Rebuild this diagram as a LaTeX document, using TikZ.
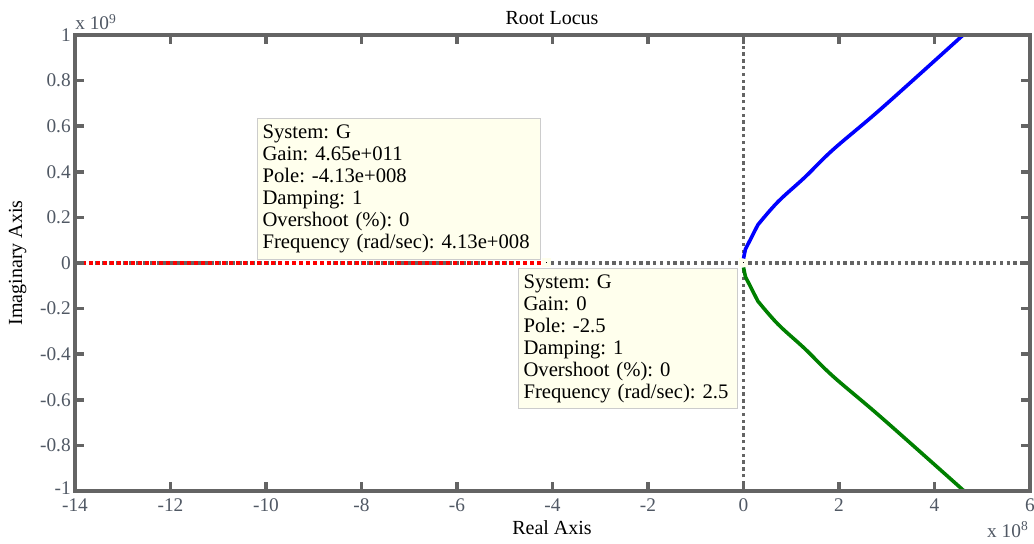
\documentclass[tikz,border=0pt]{standalone}
\usepackage{fontspec}
\setmainfont{Liberation Serif}
\frenchspacing
\definecolor{axisgray}{RGB}{100,100,100}
\definecolor{ticktext}{RGB}{80,88,100}
\definecolor{tipfill}{RGB}{255,255,237}
\definecolor{tipline}{RGB}{204,204,204}
\definecolor{locusgreen}{RGB}{0,128,0}
\tikzset{
  frame/.style={axisgray, line width=2.6pt},
  zeroline/.style={axisgray, line width=2.4pt, dash pattern=on 2.5pt off 2.6pt},
  locus/.style={line width=2.7pt, line join=round},
  pole/.style={fill=black, draw=tipfill, line width=3pt, minimum size=3.75pt, inner sep=0pt},
  tip/.style={draw=tipline, fill=tipfill, line width=0.8pt, anchor=north west, align=left,
    inner xsep=3.75pt, inner ysep=0pt, font=\fontsize{15.5}{16.5}\selectfont},
  ticklab/.style={ticktext, font=\fontsize{14.5}{18}\selectfont, inner sep=0pt},
  lab/.style={font=\fontsize{15}{18}\selectfont, inner sep=0pt},
}

\begin{document}
\begin{tikzpicture}[x=35.8125pt,y=171pt]
  \useasboundingbox (-15.571,-1.2325) rectangle (6.084,1.1535);
  % zero lines
  \draw[zeroline] (-14,0) -- (6,0);
  \draw[zeroline] (0,-1) -- (0,1);
  \node[pole] (poleA) at (-4.13,0) {};
  \node[pole] (poleB) at (0,0) {};
  \draw[red, line width=2.4pt, dash pattern=on 3pt off 2.25pt] (-14,0) -- (poleA.west);
  % branches
  \draw[locus, blue] (poleB.north) -- (0.04,0.06) -- (0.3,0.167)
    plot[smooth, tension=0.6] coordinates {(0.3,0.167) (0.72,0.268) (1.29,0.377) (1.87,0.496) (2.9,0.68) (4.6,1)};
  \draw[locus, locusgreen] (poleB.south) -- (0.04,-0.06) -- (0.3,-0.167)
    plot[smooth, tension=0.6] coordinates {(0.3,-0.167) (0.72,-0.268) (1.29,-0.377) (1.87,-0.496) (2.9,-0.68) (4.62,-1)};
  % axes box and ticks
  \draw[frame] (-14,-1) rectangle (6,1);
  \foreach \t in {-14,-12,...,6} {
    \draw[frame] (\t,-1) -- ++(0,6.75pt);
    \draw[frame] (\t,1) -- ++(0,-6.75pt);
    \node[ticklab, anchor=base, yshift=-15.75pt] at (\t,-1) {\t};
  }
  \foreach \v in {-0.8,-0.6,-0.4,-0.2,0,0.2,0.4,0.6,0.8,1} {
    \draw[frame] (-14,\v) -- ++(6.75pt,0);
    \draw[frame] (6,\v) -- ++(-6.75pt,0);
    \node[ticklab, anchor=east, xshift=-3pt] at (-14,\v) {\v};
  }
  \node[ticklab, anchor=east, xshift=-3pt, yshift=2pt] (ymin) at (-14,-1) {-1};
  \node[ticklab, anchor=base west] (yexp) at (-14,1.022) {x 10\textsuperscript{9}};
  \node[ticklab, anchor=base west] (xexp) at (5.099,-1.206) {x 10\textsuperscript{8}};
  \node[lab, anchor=base] (title) at (-4.01,1.044) {Root Locus};
  \node[lab, anchor=base] (xlab) at (-4.01,-1.193) {Real Axis};
  \node[lab, rotate=90] (ylab) at (-15.2,0) {Imaginary Axis};
  % data tips
  \node[tip, text width=204.7pt, minimum height=105.75pt] (tipA) at (-10.188,0.636)
    {System: G\\Gain: 4.65e+011\\Pole: -4.13e+008\\Damping: 1\\Overshoot (\%): 0\\Frequency (rad/sec): 4.13e+008};
  \node[tip, text width=156.7pt, minimum height=105pt] (tipB) at (-4.723,-0.022)
    {System: G\\Gain: 0\\Pole: -2.5\\Damping: 1\\Overshoot (\%): 0\\Frequency (rad/sec): 2.5};
\end{tikzpicture}
\end{document}
